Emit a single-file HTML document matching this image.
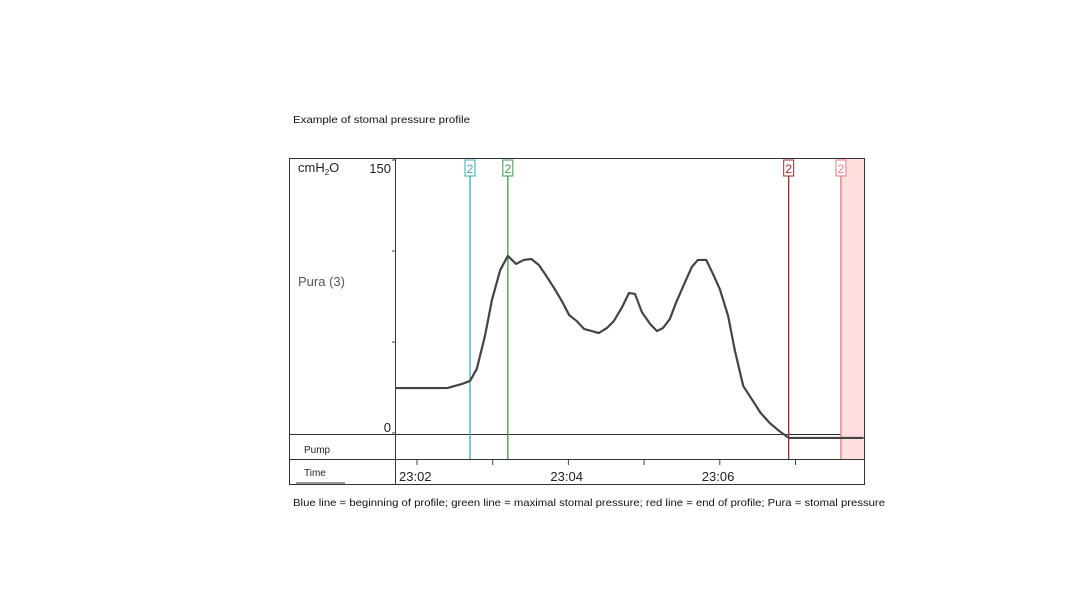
<!DOCTYPE html>
<html><head><meta charset="utf-8"><style>
body{margin:0;background:#fff;width:1080px;height:607px;overflow:hidden;font-family:"Liberation Sans",sans-serif}
svg text{font-family:"Liberation Sans",sans-serif}
</style></head><body>
<svg id="c" width="1080" height="607">
<text x="293" y="123" font-size="10.5" fill="#111" textLength="177" lengthAdjust="spacingAndGlyphs">Example of stomal pressure profile</text>
<text x="293" y="506" font-size="10.5" fill="#111" textLength="592" lengthAdjust="spacingAndGlyphs">Blue line = beginning of profile; green line = maximal stomal pressure; red line = end of profile; Pura = stomal pressure</text>
<rect x="289.5" y="158.5" width="575" height="326" fill="none" stroke="#333"/>
<line x1="395.5" y1="158" x2="395.5" y2="484" stroke="#333"/>
<line x1="289" y1="434.5" x2="864" y2="434.5" stroke="#333"/>
<line x1="289" y1="459.5" x2="864" y2="459.5" stroke="#333"/>
<text x="298" y="172" font-size="13" fill="#222">cmH<tspan font-size="8" dy="3">2</tspan><tspan dy="-3">O</tspan></text>
<text x="298" y="286" font-size="13" fill="#555">Pura (3)</text>
<text x="304" y="453" font-size="10" fill="#222">Pump</text>
<text x="304" y="476" font-size="10" fill="#222">Time</text>
<line x1="296" y1="483" x2="345" y2="483" stroke="#333"/>
<g id="g"></g>
</svg>
<script>
const times=[1.71,2.40,2.59,2.70,2.79,2.90,2.99,3.10,3.20,3.31,3.41,3.51,3.61,3.70,3.81,3.92,4.01,4.11,4.21,4.31,4.40,4.51,4.60,4.71,4.80,4.88,4.97,5.08,5.17,5.25,5.34,5.42,5.53,5.63,5.71,5.82,5.91,6.00,6.11,6.20,6.31,6.43,6.54,6.66,6.77,6.91,7.90];
const pressure=[24.7,24.7,26.9,28.6,35.2,53.8,73.1,89.6,97.3,92.9,95.1,95.6,92.3,86.8,79.7,72.0,64.8,61.5,57.1,56.0,54.9,57.7,61.5,69.2,76.9,76.4,66.5,59.9,56.0,57.7,62.6,71.4,81.9,91.2,95.1,95.1,87.4,79.1,64.3,45.1,25.8,18.1,11.0,5.5,1.6,-2.7,-2.7];
const yTicks=[0,50,100,150];
const yTickLabels=["0","","","150"];
const xTicks=[2,3,4,5,6,7];
const xTickLabels=["23:02","","23:04","","23:06",""];
const markerTimes=[2.70,3.20,6.91,7.60];
const markerColors=["#3aa9b5","#3a9a4a","#9b2a2a","#e07a7a"];
const shadeStart=7.60;
const NS="http://www.w3.org/2000/svg";
const g=document.getElementById('g');
const X=t=>417+(t-2)*75.7;
const Y=v=>433-v*1.82;
function mk(tag,a){const e=document.createElementNS(NS,tag);for(const k in a)e.setAttribute(k,a[k]);g.appendChild(e);return e;}
let sh=mk('rect',{x:X(shadeStart),y:159,width:864-X(shadeStart),height:300,fill:'#ffdede'});


yTicks.forEach((v,i)=>{
  let t=mk('line',{x1:392,x2:396,y1:Y(v),y2:Y(v),stroke:'#444'});
  
  
  if(yTickLabels[i]){let l=mk('text',{x:391,y:i==0?Y(v)-1:Y(v)+13,'font-size':13,'text-anchor':'end',fill:'#222'});l.textContent=yTickLabels[i];
  
  }
});
xTicks.forEach((t,i)=>{
  let k=mk('line',{x1:X(t),x2:X(t),y1:460,y2:465,stroke:'#444'});
  
  
  if(xTickLabels[i]){let l=mk('text',{x:X(t)-18,y:481,'font-size':13,fill:'#222'});l.textContent=xTickLabels[i];
  
  }
});
markerTimes.forEach((t,i)=>{
  const x=X(t);
  let ln=mk('line',{x1:x,x2:x,y1:176,y2:459,stroke:markerColors[i],'stroke-width':1.3});
  
  
  let b=mk('rect',{x:x-5,y:160,width:10,height:16,fill:'#fff',stroke:markerColors[i]});
  
  
  let tx=mk('text',{x:x,y:173,'font-size':12,'text-anchor':'middle',fill:markerColors[i]});tx.textContent='2';
  
  
});
let p=mk('polyline',{points:times.map((t,i)=>X(t)+','+Y(pressure[i])).join(' '),fill:'none',stroke:'#444','stroke-width':2.2,'stroke-linejoin':'round'});


</script>
</body></html>
